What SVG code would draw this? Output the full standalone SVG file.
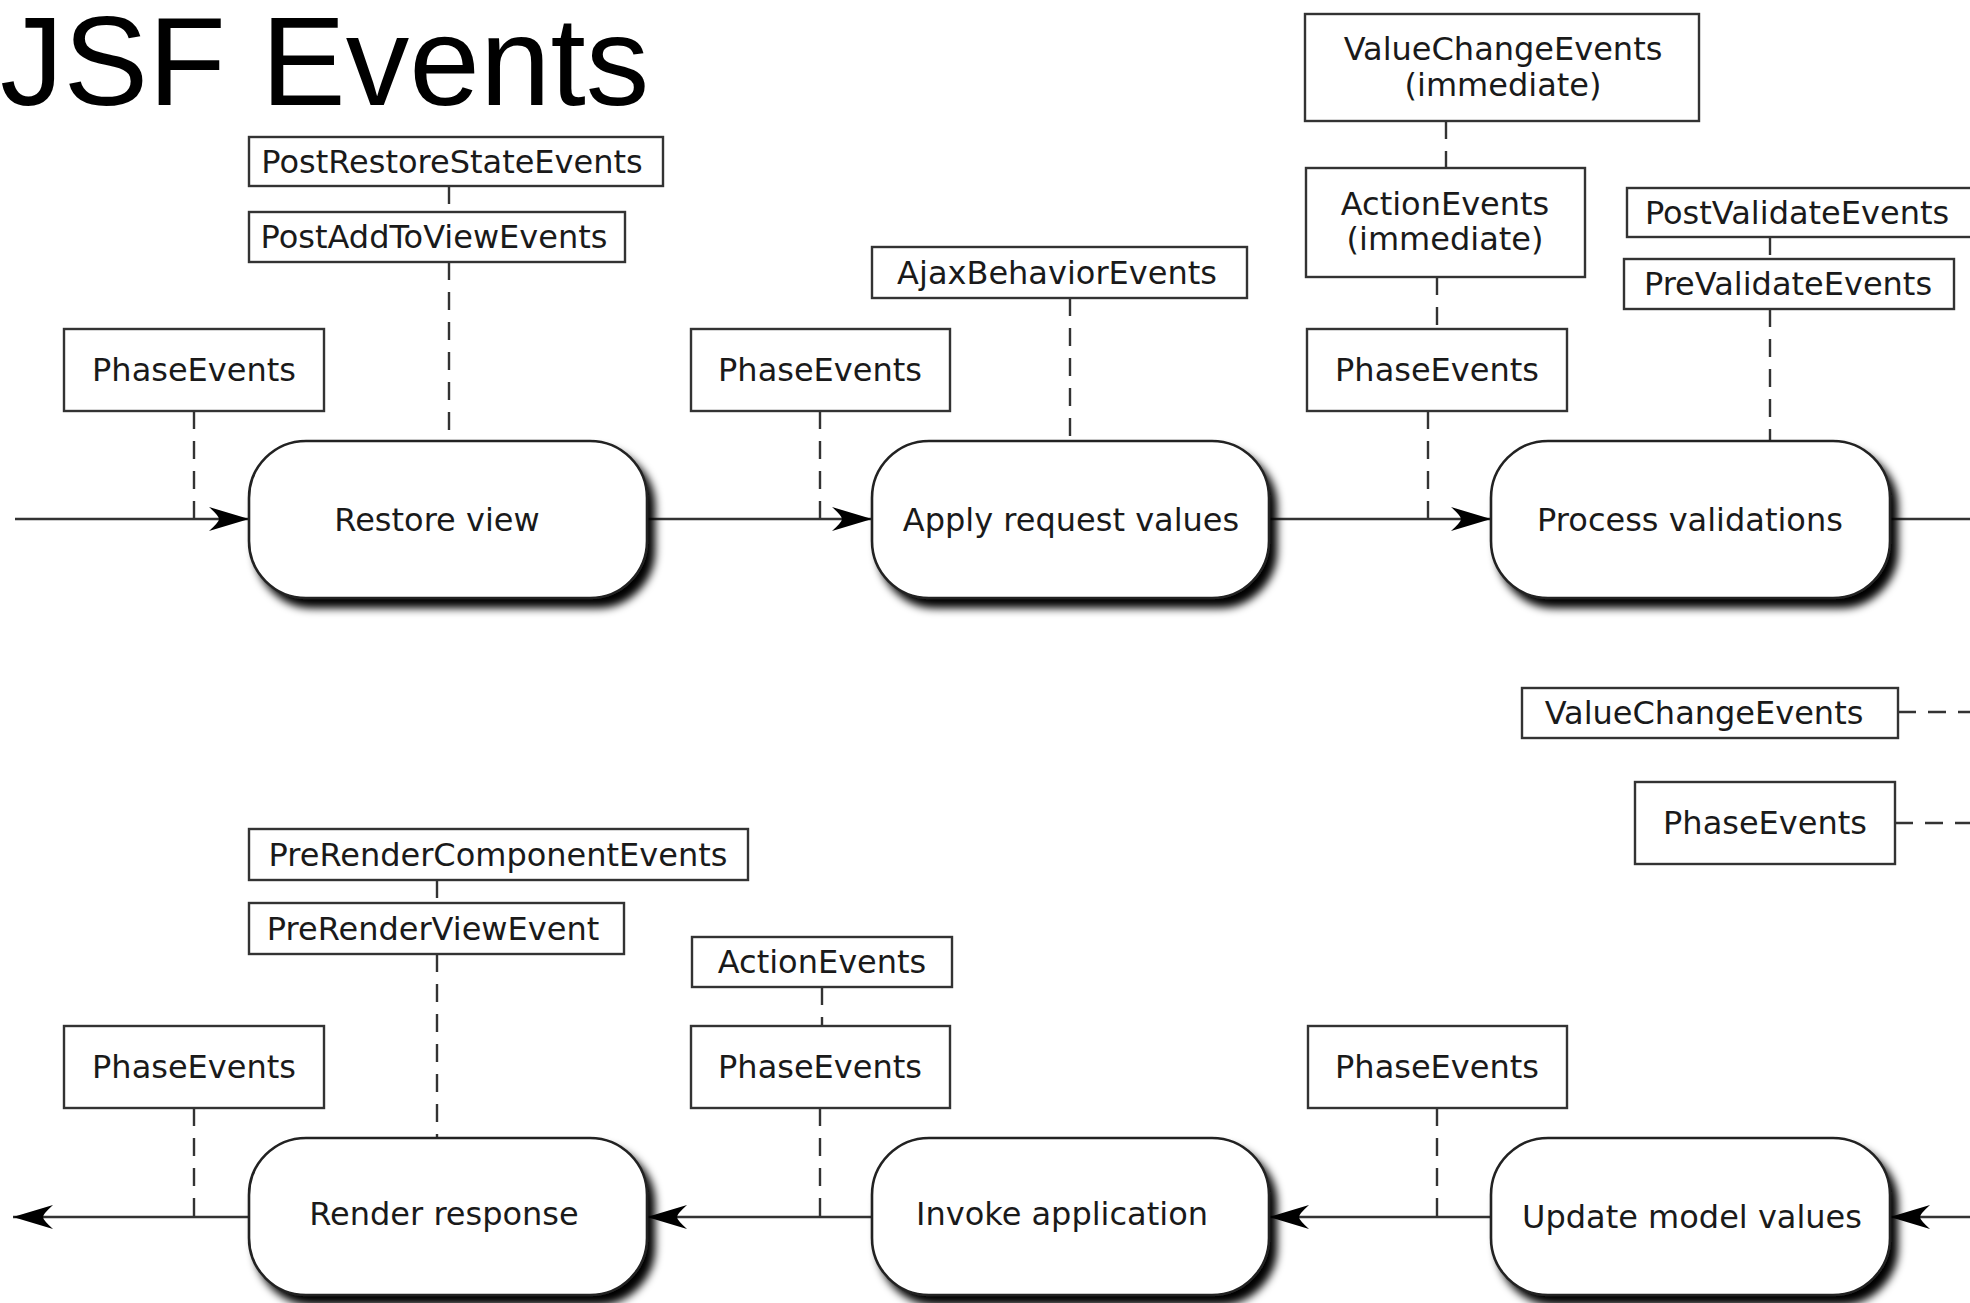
<svg xmlns="http://www.w3.org/2000/svg" width="1970" height="1303" viewBox="0 0 1970 1303">
  <style>
    .title { font-family: "Liberation Sans", Arial, sans-serif; font-size: 127px; fill: #000; }
    .lbl { font-family: "DejaVu Sans", "Liberation Sans", sans-serif; font-size: 32px; fill: #1a1a1a; text-anchor: middle; }
    .box { fill: #fff; stroke: #333; stroke-width: 2.4; }
    .phase { fill: #fff; stroke: #222; stroke-width: 2.6; }
    .flow { fill: none; stroke: #333; stroke-width: 2.6; }
    .dash { fill: none; stroke: #333; stroke-width: 2.4; stroke-dasharray: 18 12; }
  </style>
  <defs>
    <filter id="shadow" x="-10%" y="-10%" width="130%" height="140%">
      <feGaussianBlur in="SourceAlpha" stdDeviation="4.5"/>
      <feOffset dx="7" dy="9" result="blur"/>
      <feMerge>
        <feMergeNode in="blur"/>
        <feMergeNode in="SourceGraphic"/>
      </feMerge>
    </filter>
    <marker id="arrow" markerUnits="userSpaceOnUse" markerWidth="44" markerHeight="30" viewBox="-42 -15 44 30" refX="0" refY="0" orient="auto">
      <path d="M0,0 L-40,-12 Q-30,-3 -30,0 Q-30,3 -40,12 Z" fill="#000"/>
    </marker>
  </defs>

  <rect width="1970" height="1303" fill="#fff"/>

  <text class="title" x="0" y="105">JSF Events</text>

  <!-- connectors -->
  <g id="connectors">
    <!-- top row flow -->
    <line class="flow" x1="15" y1="519" x2="249" y2="519" marker-end="url(#arrow)"/>
    <line class="flow" x1="647" y1="519" x2="872" y2="519" marker-end="url(#arrow)"/>
    <line class="flow" x1="1269" y1="519" x2="1491" y2="519" marker-end="url(#arrow)"/>
    <line class="flow" x1="1890" y1="519" x2="1975" y2="519"/>
    <!-- bottom row flow (right to left) -->
    <line class="flow" x1="1975" y1="1217" x2="1890" y2="1217" marker-end="url(#arrow)"/>
    <line class="flow" x1="1491" y1="1217" x2="1269" y2="1217" marker-end="url(#arrow)"/>
    <line class="flow" x1="872" y1="1217" x2="647" y2="1217" marker-end="url(#arrow)"/>
    <line class="flow" x1="249" y1="1217" x2="13" y2="1217" marker-end="url(#arrow)"/>

    <!-- event attachments, top row -->
    <line class="dash" x1="194" y1="411" x2="194" y2="519"/>
    <line class="dash" x1="449" y1="186" x2="449" y2="212"/>
    <line class="dash" x1="449" y1="262" x2="449" y2="441"/>
    <line class="dash" x1="820" y1="411" x2="820" y2="519"/>
    <line class="dash" x1="1070" y1="298" x2="1070" y2="441"/>
    <line class="dash" x1="1446" y1="121" x2="1446" y2="168"/>
    <line class="dash" x1="1437" y1="277" x2="1437" y2="329"/>
    <line class="dash" x1="1428" y1="411" x2="1428" y2="519"/>
    <line class="dash" x1="1770" y1="237" x2="1770" y2="259"/>
    <line class="dash" x1="1770" y1="309" x2="1770" y2="441"/>

    <!-- event attachments, middle -->
    <line class="dash" x1="1898" y1="712" x2="1975" y2="712"/>
    <line class="dash" x1="1895" y1="823" x2="1975" y2="823"/>

    <!-- event attachments, bottom row -->
    <line class="dash" x1="437" y1="880" x2="437" y2="903"/>
    <line class="dash" x1="437" y1="954" x2="437" y2="1138"/>
    <line class="dash" x1="194" y1="1108" x2="194" y2="1217"/>
    <line class="dash" x1="822" y1="987" x2="822" y2="1026"/>
    <line class="dash" x1="820" y1="1108" x2="820" y2="1217"/>
    <line class="dash" x1="1437" y1="1108" x2="1437" y2="1217"/>
  </g>

  <!-- phases, top row -->
  <g id="restore-view">
    <rect class="phase" x="249" y="441" width="398" height="157" rx="57" ry="57" filter="url(#shadow)"/>
    <text class="lbl" x="437" y="531">Restore view</text>
  </g>
  <g id="apply-request-values">
    <rect class="phase" x="872" y="441" width="397" height="157" rx="57" ry="57" filter="url(#shadow)"/>
    <text class="lbl" x="1071" y="531">Apply request values</text>
  </g>
  <g id="process-validations">
    <rect class="phase" x="1491" y="441" width="399" height="157" rx="57" ry="57" filter="url(#shadow)"/>
    <text class="lbl" x="1690" y="531">Process validations</text>
  </g>

  <!-- phases, bottom row -->
  <g id="render-response">
    <rect class="phase" x="249" y="1138" width="398" height="157" rx="57" ry="57" filter="url(#shadow)"/>
    <text class="lbl" x="444" y="1225">Render response</text>
  </g>
  <g id="invoke-application">
    <rect class="phase" x="872" y="1138" width="397" height="157" rx="57" ry="57" filter="url(#shadow)"/>
    <text class="lbl" x="1062" y="1225">Invoke application</text>
  </g>
  <g id="update-model-values">
    <rect class="phase" x="1491" y="1138" width="399" height="157" rx="57" ry="57" filter="url(#shadow)"/>
    <text class="lbl" x="1692" y="1228">Update model values</text>
  </g>

  <!-- events, top row -->
  <g id="post-restore-state-events">
    <rect class="box" x="249" y="137" width="414" height="49"/>
    <text class="lbl" x="452" y="173">PostRestoreStateEvents</text>
  </g>
  <g id="post-add-to-view-events">
    <rect class="box" x="249" y="212" width="376" height="50"/>
    <text class="lbl" x="434" y="248">PostAddToViewEvents</text>
  </g>
  <g id="phase-events-restore">
    <rect class="box" x="64" y="329" width="260" height="82"/>
    <text class="lbl" x="194" y="381">PhaseEvents</text>
  </g>
  <g id="phase-events-apply">
    <rect class="box" x="691" y="329" width="259" height="82"/>
    <text class="lbl" x="820" y="381">PhaseEvents</text>
  </g>
  <g id="ajax-behavior-events">
    <rect class="box" x="872" y="247" width="375" height="51"/>
    <text class="lbl" x="1057" y="284">AjaxBehaviorEvents</text>
  </g>
  <g id="value-change-events-immediate">
    <rect class="box" x="1305" y="14" width="394" height="107"/>
    <text class="lbl" x="1503" y="60">ValueChangeEvents</text>
    <text class="lbl" x="1503" y="96">(immediate)</text>
  </g>
  <g id="action-events-immediate">
    <rect class="box" x="1306" y="168" width="279" height="109"/>
    <text class="lbl" x="1445" y="215">ActionEvents</text>
    <text class="lbl" x="1445" y="250">(immediate)</text>
  </g>
  <g id="phase-events-process">
    <rect class="box" x="1307" y="329" width="260" height="82"/>
    <text class="lbl" x="1437" y="381">PhaseEvents</text>
  </g>
  <g id="post-validate-events">
    <rect class="box" x="1627" y="188" width="350" height="49"/>
    <text class="lbl" x="1797" y="224">PostValidateEvents</text>
  </g>
  <g id="pre-validate-events">
    <rect class="box" x="1624" y="259" width="330" height="50"/>
    <text class="lbl" x="1788" y="295">PreValidateEvents</text>
  </g>

  <!-- events, middle -->
  <g id="value-change-events">
    <rect class="box" x="1522" y="688" width="376" height="50"/>
    <text class="lbl" x="1704" y="724">ValueChangeEvents</text>
  </g>
  <g id="phase-events-update">
    <rect class="box" x="1635" y="782" width="260" height="82"/>
    <text class="lbl" x="1765" y="834">PhaseEvents</text>
  </g>

  <!-- events, bottom row -->
  <g id="pre-render-component-events">
    <rect class="box" x="249" y="829" width="499" height="51"/>
    <text class="lbl" x="498" y="866">PreRenderComponentEvents</text>
  </g>
  <g id="pre-render-view-event">
    <rect class="box" x="249" y="903" width="375" height="51"/>
    <text class="lbl" x="433" y="940">PreRenderViewEvent</text>
  </g>
  <g id="phase-events-render">
    <rect class="box" x="64" y="1026" width="260" height="82"/>
    <text class="lbl" x="194" y="1078">PhaseEvents</text>
  </g>
  <g id="action-events">
    <rect class="box" x="692" y="937" width="260" height="50"/>
    <text class="lbl" x="822" y="973">ActionEvents</text>
  </g>
  <g id="phase-events-invoke">
    <rect class="box" x="691" y="1026" width="259" height="82"/>
    <text class="lbl" x="820" y="1078">PhaseEvents</text>
  </g>
  <g id="phase-events-update-model">
    <rect class="box" x="1308" y="1026" width="259" height="82"/>
    <text class="lbl" x="1437" y="1078">PhaseEvents</text>
  </g>
</svg>
